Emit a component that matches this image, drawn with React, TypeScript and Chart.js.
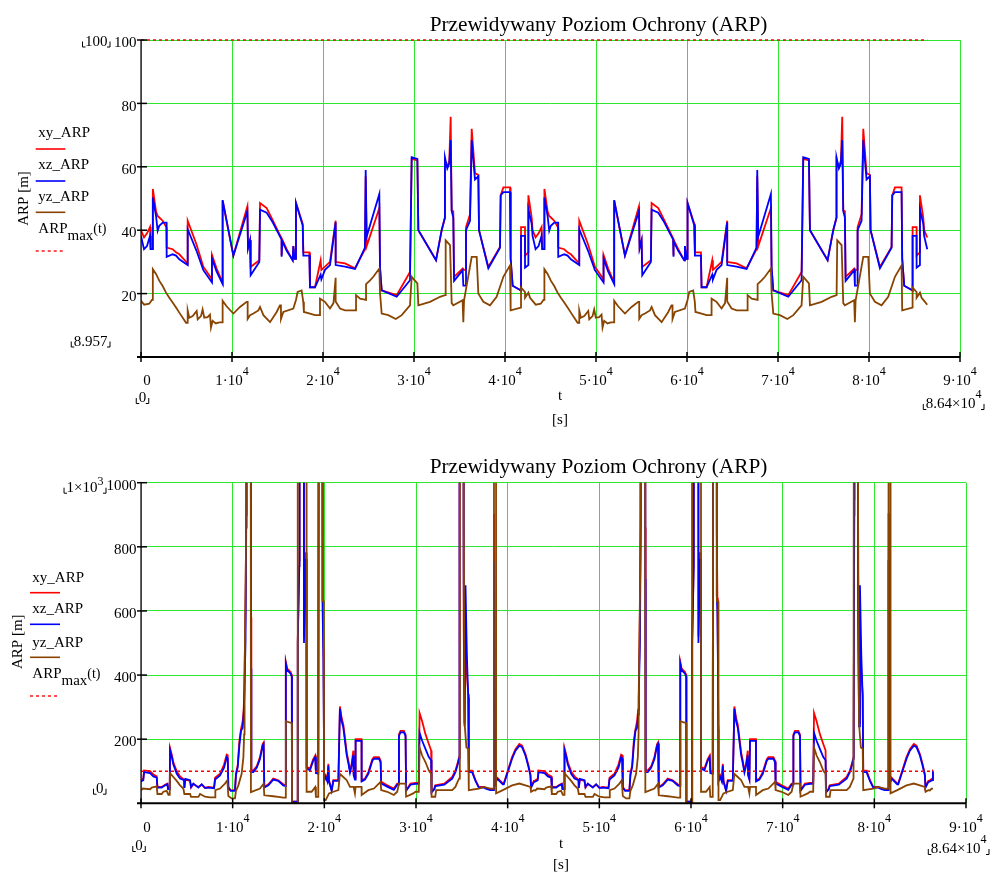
import React, { useEffect, useRef } from "react";
import { Chart, registerables } from "chart.js";

Chart.register(...registerables);

// ---------------- DATA ----------------
// Top plot: time [s] shared by xy_ARP and xz_ARP
const topT = [
  0,330,660,990,1060,1280,1300,1650,1830,2010,
  2380,2800,2820,3480,3850,4210,5130,5130,6100,6850,
  7800,7800,8300,8970,8970,10150,11690,11760,11980,12050,
  13000,13080,13810,14470,15450,15450,15530,16010,16670,16740,
  16890,17030,17030,17770,17840,18500,18570,19120,19740,19820,
  20220,20770,21390,21390,22420,23520,24610,24690,24800,26190,
  26265,26450,28100,29560,29745,30370,30480,32420,33040,33400,
  33400,33660,33880,34030,34140,34320,34400,35350,35420,35716,
  35716,36156,36340,36700,37070,37144,38170,39450,39525,39820,
  40550,40620,40840,41760,41760,42200,42200,42568,42568,42933,
  43030,43360,43690,44020,44090,44310,44330,44680,44860,45040,
  45410,45830,45850,46510,46880,47240,48160,48160,49130,49880,
  50830,50830,51330,52000,52000,53180,54720,54790,55010,55080,
  56030,56110,56840,57500,58480,58480,58560,59040,59700,59770,
  59920,60060,60060,60800,60870,61530,61600,62150,62770,62850,
  63250,63800,64420,64420,65450,66550,67640,67720,67830,69220,
  69295,69480,71130,72590,72775,73400,73510,75450,76070,76430,
  76430,76690,76910,77060,77170,77350,77430,78380,78450,78746,
  78746,79186,79370,79730,80100,80174,81200,82480,82555,82850,
  83580,83650,83870,84790,84790,85230,85230,85598,85598,85963,
  86060,86400,
];
const topXY = [
  40,37.7,39,41,34,34,53,46,44.5,44,
  43,40.8,34.5,34,33,32.4,29.5,43,35.5,28.5,
  24.5,32.2,28,23.5,49.3,32,47.5,34.5,36.8,28.4,
  30.5,48.6,47,43.2,37.4,32,37,34,30.5,35,
  31,31,48.6,42,33,33,22,22,30.5,27.5,
  28.5,30,43,30,29.5,28,34,57,35,47,
  28,21,19.5,26.8,62.5,62,40,30.5,40,44,
  62,60,62,75.8,46.3,46,25.3,27.9,27.5,27.5,
  41,45,72,58,57.4,40,28.4,34.7,51,53.5,
  53.5,31,22.5,21,41,41,32,33,51,44,
  40,37.7,39,41,34,34,53,46,44.5,44,
  43,40.8,34.5,34,33,32.4,29.5,43,35.5,28.5,
  24.5,32.2,28,23.5,49.3,32,47.5,34.5,36.8,28.4,
  30.5,48.6,47,43.2,37.4,32,37,34,30.5,35,
  31,31,48.6,42,33,33,22,22,30.5,27.5,
  28.5,30,43,30,29.5,28,34,57,35,47,
  28,21,19.5,26.8,62.5,62,40,30.5,40,44,
  62,60,62,75.8,46.3,46,25.3,27.9,27.5,27.5,
  41,45,72,58,57.4,40,28.4,34.7,51,53.5,
  53.5,31,22.5,21,41,41,32,33,51,44,
  40,37.7,
];
const topXZ = [
  38.2,34,35,38.2,34,34,50.3,44.5,39.8,41.4,
  42.4,42.4,31.6,32.4,32,30.8,29,40.3,33.5,27.4,
  23.5,31,27,23,49.5,32,46,34.2,36.8,25.8,
  30,46.5,45.5,42.5,37,31.6,36.5,33.5,30.5,35,
  31,31,48.6,41.5,32,32,22,22,26,24.5,
  27.5,29,42.5,29,28.5,27.8,34.5,59,38,51.4,
  28.4,21,19,24.2,63,62.5,40,30.5,40,44,
  63,59.5,61,68.4,46,44,24,27.4,22.5,22.5,
  40,43,68.4,56,57,40,28,34.5,51,52,
  52,31,22.5,21,38.2,38.2,28.2,29,46.6,42,
  38.2,34,35,38.2,34,34,50.3,44.5,39.8,41.4,
  42.4,42.4,31.6,32.4,32,30.8,29,40.3,33.5,27.4,
  23.5,31,27,23,49.5,32,46,34.2,36.8,25.8,
  30,46.5,45.5,42.5,37,31.6,36.5,33.5,30.5,35,
  31,31,48.6,41.5,32,32,22,22,26,24.5,
  27.5,29,42.5,29,28.5,27.8,34.5,59,38,51.4,
  28.4,21,19,24.2,63,62.5,40,30.5,40,44,
  63,59.5,61,68.4,46,44,24,27.4,22.5,22.5,
  40,43,68.4,56,57,40,28,34.5,51,52,
  52,31,22.5,21,38.2,38.2,28.2,29,46.6,42,
  38.2,34,
];
// Top plot: yz_ARP
const topYzT = [
  0,350,900,1200,1300,1300,1650,2020,2380,2750,
  3110,3480,3850,4210,4950,5130,5130,5310,5680,6120,
  6230,6590,6770,6950,7320,7580,7690,7870,8230,8600,
  8970,8970,9400,10150,10880,11610,11720,11720,11980,12350,
  12900,13080,13450,14180,14910,15270,15380,15380,15640,16740,
  17030,17210,17650,17830,17900,18570,19120,19670,19670,20220,
  20770,21150,21390,21390,21870,22420,23630,23630,24080,24730,
  24730,25170,25530,26190,26270,26450,27180,28000,28650,29560,
  29745,30370,30480,31760,32860,33410,33480,33960,34140,34320,
  35340,35420,35500,35790,36340,36890,37070,37620,38350,39080,
  39820,40550,40620,41760,41760,42200,42200,42570,42750,
  43030,43380,43930,44230,44330,44330,44680,45050,45410,45780,
  46140,46510,46880,47240,47980,48160,48160,48340,48710,49150,
  49260,49620,49800,49980,50350,50610,50720,50900,51260,51630,
  52000,52000,52430,53180,53910,54640,54750,54750,55010,55380,
  55930,56110,56480,57210,57940,58300,58410,58410,58670,59770,
  60060,60240,60680,60860,60930,61600,62150,62700,62700,63250,
  63800,64180,64420,64420,64900,65450,66660,66660,67110,67760,
  67760,68200,68560,69220,69300,69480,70210,71030,71680,72590,
  72775,73400,73510,74790,75890,76440,76510,76990,77170,77350,
  78370,78450,78530,78820,79370,79920,80100,80650,81380,82110,
  82850,83580,83650,84790,84790,85230,85230,85600,85780,
  86060,86400,
];
const topYZ = [
  17.7,16.5,16.8,18,18,27.7,26.2,24,22.4,20.3,
  18.7,17.2,15.6,14,10.8,10.8,14.7,12.4,12.9,14.5,
  11.9,12.9,15,12.4,12.6,13.4,9.3,11.4,10.6,10.9,
  10.9,17.7,16,13.7,15.8,17.4,17.4,12,13.2,13.7,
  14.7,15.8,13.2,11,14.2,16.3,16.3,12,14.2,15.3,
  18,20.5,21,17.4,14.2,13.7,13.2,13.2,18.4,17.4,
  15.3,17,25,17.5,15.3,14.7,14.7,19.5,18.4,18,
  23,24.2,25.3,27.9,20,13.7,13.2,12,13.2,16.3,
  25.3,23.2,16.3,17.4,19,19.5,36.8,35.3,17,16.3,
  17.9,11,17.9,22.6,31.6,31.6,20,17.4,16.3,19,
  25.3,28.9,14.7,15.6,21.9,20.5,18.7,20.3,18.7,
  17.7,16.5,16.8,18,18,27.7,26.2,24,22.4,20.3,
  18.7,17.2,15.6,14,10.8,10.8,14.7,12.4,12.9,14.5,
  11.9,12.9,15,12.4,12.6,13.4,9.3,11.4,10.6,10.9,
  10.9,17.7,16,13.7,15.8,17.4,17.4,12,13.2,13.7,
  14.7,15.8,13.2,11,14.2,16.3,16.3,12,14.2,15.3,
  18,20.5,21,17.4,14.2,13.7,13.2,13.2,18.4,17.4,
  15.3,17,25,17.5,15.3,14.7,14.7,19.5,18.4,18,
  23,24.2,25.3,27.9,20,13.7,13.2,12,13.2,16.3,
  25.3,23.2,16.3,17.4,19,19.5,36.8,35.3,17,16.3,
  17.9,11,17.9,22.6,31.6,31.6,20,17.4,16.3,19,
  25.3,28.9,14.7,15.6,21.9,20.5,18.7,20.3,18.7,
  17.7,16.5,
];

// Bottom plot: time [s] shared by xy_ARP and xz_ARP
const botT = [
  0,250,336,990,1350,1717,1790,2260,2625,2880,
  2950,3134,3170,3350,3530,3900,4260,4700,4730,4840,
  5350,5460,5710,6260,6620,6980,7350,7970,8080,8620,
  9060,9350,9460,9530,9780,10250,10360,10550,10730,10910,
  11090,11200,11270,11400,11480,11520,11950,11990,12010,12040,
  12250,12620,12980,13270,13380,13450,13890,14430,14970,15520,
  15780,15800,15950,16300,16450,16470,17080,17100,17270,17300,
  17750,17780,17950,18050,18065,18430,18610,18790,19010,19080,
  19340,19450,19750,19780,19850,19900,19950,19970,20150,20330,
  20440,20510,20800,20980,21530,21700,21890,22070,22250,22440,
  22620,22800,22980,23160,23200,23340,23400,23410,24060,24070,
  24430,24800,25240,25410,25960,26140,26200,26860,27580,27950,
  28130,28140,28310,28680,28860,28920,29400,29948,30300,30390,
  30670,31040,31400,31650,31700,32000,32100,33090,33950,34300,
  34520,34700,34720,34780,34800,35150,35200,35300,35400,35550,
  35700,35760,36120,36300,36490,36850,37400,37760,38120,38500,
  38520,38600,38620,38850,39470,39575,40480,40850,41280,41570,
  41940,42230,42480,42555,42850,
  43030,43280,43366,44020,44380,44747,44820,45290,45655,45910,
  45980,46164,46200,46380,46560,46930,47290,47730,47760,47870,
  48380,48490,48740,49290,49650,50010,50380,51000,51110,51650,
  52090,52380,52490,52560,52810,53280,53390,53580,53760,53940,
  54120,54230,54300,54430,54510,54550,54980,55020,55040,55070,
  55280,55650,56010,56300,56410,56480,56920,57460,58000,58550,
  58810,58830,58980,59330,59480,59500,60110,60130,60300,60330,
  60780,60810,60980,61080,61095,61460,61640,61820,62040,62110,
  62370,62480,62780,62810,62880,62930,62980,63000,63180,63360,
  63470,63540,63830,64010,64560,64730,64920,65100,65280,65470,
  65650,65830,66010,66190,66230,66370,66430,66440,67090,67100,
  67460,67830,68270,68440,68990,69170,69230,69890,70610,70980,
  71160,71170,71340,71710,71890,71950,72430,72978,73330,73420,
  73700,74070,74430,74680,74730,75030,75130,76120,76980,77330,
  77550,77730,77750,77810,77830,78180,78230,78330,78430,78580,
  78730,78790,79150,79330,79520,79880,80430,80790,81150,81530,
  81550,81630,81650,81880,82500,82605,83510,83880,84310,84600,
  84970,85260,85510,85585,85880,
  86060,86310,86396,86400,
];
const botXY = [
  72,77,102.6,100.5,90,84,51,51,58,61.5,
  46,46,172,152,128,99.5,84,74,49,74,
  70,49,59.5,51,58,48,51,49,80,92,
  121,152,150,51,41,41,94,118,195,231,
  256,292,350,610,900,3000,3000,860,580,102.6,
  102.6,115,144,185,190,51,59.5,77,72,59.5,
  56,441,420,410,400,5,5,508,758,3000,
  3000,520,780,780,113,108,123,138,149,100.5,
  97.5,3000,3000,860,640,480,240,72,87,72,
  123,72,41,72,72,302,266,246,205,159,
  133,102,123,164,92,77,77,200,200,72,
  77,97.5,138,144,144,133,67,56,46,61.5,
  61.5,215,226,226,215,41,61.5,64,64,282,
  256,215,185,165,36,46,56,61,82,102,
  123,144,250,950,3000,3000,560,250,540,400,
  340,102,102,87,72,51,51,46,43,43,
  902,902,60,80,62,62,144,169,185,180,
  154,123,92,51,70,
  72,77,102.6,100.5,90,84,51,51,58,61.5,
  46,46,172,152,128,99.5,84,74,49,74,
  70,49,59.5,51,58,48,51,49,80,92,
  121,152,150,51,41,41,94,118,195,231,
  256,292,350,610,900,3000,3000,860,580,102.6,
  102.6,115,144,185,190,51,59.5,77,72,59.5,
  56,441,420,410,400,5,5,508,758,3000,
  3000,520,780,780,113,108,123,138,149,100.5,
  97.5,3000,3000,860,640,480,240,72,87,72,
  123,72,41,72,72,302,266,246,205,159,
  133,102,123,164,92,77,77,200,200,72,
  77,97.5,138,144,144,133,67,56,46,61.5,
  61.5,215,226,226,215,41,61.5,64,64,282,
  256,215,185,165,36,46,56,61,82,102,
  123,144,250,950,3000,3000,560,250,540,400,
  340,102,102,87,72,51,51,46,43,43,
  902,902,60,80,62,62,144,169,185,180,
  154,123,92,51,70,
  72,77,102.6,102.6,
];
const botXZ = [
  68,72,97.5,94,84,80,49,49,56,59.5,
  44,44,166,146,121,92,77,72,48,76,
  72,51,61.5,49,59.5,48,49,47,74,87,
  111,144,140,49,39,39,87,113,180,226,
  236,277,330,500,860,3000,3000,700,420,97.5,
  97.5,111,138,180,185,49,56,74,70,56,
  54,436,415,405,395,5,5,500,740,3000,
  3000,500,760,760,108,103,118,133,144,94,
  92,3000,3000,650,600,450,230,68,82,68,
  118,68,39,70,70,295,256,236,195,150,
  125,96,118,150,87,74,74,195,195,68,
  74,92,133,139,139,128,62,52,42,58,
  58,210,221,221,210,39,58,61,61,220,
  195,169,144,134,34,44,54,58,77,97,
  118,139,240,900,3000,3000,720,240,680,460,
  330,97,97,84,70,49,49,44,41,41,
  755,755,58,77,59,59,139,164,180,175,
  149,118,87,49,66,
  68,72,97.5,94,84,80,49,49,56,59.5,
  44,44,166,146,121,92,77,72,48,76,
  72,51,61.5,49,59.5,48,49,47,74,87,
  111,144,140,49,39,39,87,113,180,226,
  236,277,330,500,860,3000,3000,700,420,97.5,
  97.5,111,138,180,185,49,56,74,70,56,
  54,436,415,405,395,5,5,500,740,3000,
  3000,500,760,760,108,103,118,133,144,94,
  92,3000,3000,650,600,450,230,68,82,68,
  118,68,39,70,70,295,256,236,195,150,
  125,96,118,150,87,74,74,195,195,68,
  74,92,133,139,139,128,62,52,42,58,
  58,210,221,221,210,39,58,61,61,220,
  195,169,144,134,34,44,54,58,77,97,
  118,139,240,900,3000,3000,720,240,680,460,
  330,97,97,84,70,49,49,44,41,41,
  755,755,58,77,59,59,139,164,180,175,
  149,118,87,49,66,
  68,72,97.5,97.5,
];
// Bottom plot: yz_ARP
const botYzT = [
  0,190,990,1170,1717,1790,2260,2440,2800,2990,
  3134,3170,3530,3900,4260,4620,4730,5350,5460,6260,
  6440,6980,7530,8080,8110,8620,9160,9420,9530,9890,
  10250,10360,10620,10980,11170,11250,11300,11450,11520,11950,
  11990,12980,13380,13450,14430,14970,15520,15780,15800,16450,
  16470,17080,17100,18050,18065,18610,19010,19080,19340,19450,
  19750,19800,19950,19970,20150,20510,20980,21530,21700,22070,
  22440,22800,23200,23340,23410,24060,24070,24800,25410,26140,
  26200,26860,27580,27950,28140,28860,28920,29700,29948,30300,
  30390,30670,31040,31400,31650,31700,32100,32200,33950,34300,
  34520,34700,34780,35150,35200,35300,35500,35700,35760,36850,
  37400,38120,38500,38520,38720,38740,39470,40480,41280,41940,
  42480,42555,42850,
  43030,43220,44020,44200,44747,44820,45290,45470,45830,46020,
  46164,46200,46560,46930,47290,47650,47760,48380,48490,49290,
  49470,50010,50560,51110,51140,51650,52190,52450,52560,52920,
  53280,53390,53650,54010,54200,54280,54330,54480,54550,54980,
  55020,56010,56410,56480,57460,58000,58550,58810,58830,59480,
  59500,60110,60130,61080,61095,61640,62040,62110,62370,62480,
  62780,62830,62980,63000,63180,63540,64010,64560,64730,65100,
  65470,65830,66230,66370,66440,67090,67100,67830,68440,69170,
  69230,69890,70610,70980,71170,71890,71950,72730,72978,73330,
  73420,73700,74070,74430,74680,74730,75130,75230,76980,77330,
  77550,77730,77810,78180,78230,78330,78530,78730,78790,79880,
  80430,81150,81530,81550,81750,81770,82500,83510,84310,84970,
  85510,85585,85880,
  86060,86250,86400,
];
const botYZ = [
  40,46,44,49,53,29,29,36,39,26,
  26,94,82,70,56,46,29,29,20,20,
  29,20.5,18.5,18.5,41,46,61.6,72,22.6,15.4,
  15.4,39,56,92,144,215,400,780,3000,3000,
  35,46,61,25,22,20,18,18,256,250,
  0,0,3000,3000,36,36,51,20,20,3000,
  3000,630,630,10,10,31,36,41,92,82,
  72,51,51,31,51,51,26,41,46,67,
  41,36,26,36,61.6,61.6,20.5,31,36,36,
  174,149,128,102,92,20.5,20.5,41,41,51,
  66,77,3000,3000,880,250,174,170,41,46,
  51,46,46,3000,3000,31,41,56,61.6,56,
  51,36,41,
  40,46,44,49,53,29,29,36,39,26,
  26,94,82,70,56,46,29,29,20,20,
  29,20.5,18.5,18.5,41,46,61.6,72,22.6,15.4,
  15.4,39,56,92,144,215,400,780,3000,3000,
  35,46,61,25,22,20,18,18,256,250,
  0,0,3000,3000,36,36,51,20,20,3000,
  3000,630,630,10,10,31,36,41,92,82,
  72,51,51,31,51,51,26,41,46,67,
  41,36,26,36,61.6,61.6,20.5,31,36,36,
  174,149,128,102,92,20.5,20.5,41,41,51,
  66,77,3000,3000,880,250,174,170,41,46,
  51,46,46,3000,3000,31,41,56,61.6,56,
  51,36,41,
  40,46,46,
];

// ARP_max(t)
const arpMaxT = [0, 86400];
const topArpMax = [100, 100];
const botArpMax = [100, 100];

// Axis ticks / labels
const xTicks = [0, 10000, 20000, 30000, 40000, 50000, 60000, 70000, 80000, 90000];
const xTickLabels: [string, string][] = [
  ["0", ""], ["1·10", "4"], ["2·10", "4"], ["3·10", "4"], ["4·10", "4"],
  ["5·10", "4"], ["6·10", "4"], ["7·10", "4"], ["8·10", "4"], ["9·10", "4"],
];
const topYTicks = [20, 40, 60, 80, 100];
const botYTicks = [200, 400, 600, 800, 1000];
const legendNames = ["xy_ARP", "xz_ARP", "yz_ARP"];
const titleText = "Przewidywany Poziom Ochrony (ARP)";

// ---------------- STYLE ----------------
const RED = "#ff0000";
const BLUE = "#0000ff";
const BROWN = "#884400";
const GREEN = "#2ee62e";
const FONT = "'Liberation Serif', 'Times New Roman', Times, serif";

type Spec = {
  yTicks: number[];
  limTop: [string, string];
  limTopBase: number;
  limBot: string;
  limBotBase: number;
  limRight: number;
  titleBase: number;
  yTitle: [number, number];
  legX: number;
  legLine: [number, number];
  legRows: [number, number][];
  arpBase: number;
  arpDash: number;
  xLabelDy: number;
  zeroDy: number;
  zeroX: number;
  tX: number;
  tDy: number;
  sDy: number;
  rightX: number;
  rightDy: number;
};

function txt(ctx: CanvasRenderingContext2D, s: string, x: number, y: number, size: number, align: CanvasTextAlign = "left") {
  ctx.font = `${size}px ${FONT}`;
  ctx.textAlign = align;
  ctx.textBaseline = "alphabetic";
  ctx.fillText(s, x, y);
}

function supText(ctx: CanvasRenderingContext2D, base: string, sup: string, x: number, y: number, align: "left" | "center" | "right", size = 15, supSize = 12, rise = 9): [number, number] {
  ctx.font = `${size}px ${FONT}`;
  const wb = ctx.measureText(base).width;
  ctx.font = `${supSize}px ${FONT}`;
  const ws = sup ? ctx.measureText(sup).width : 0;
  const w = wb + ws;
  const x0 = align === "center" ? x - w / 2 : align === "right" ? x - w : x;
  txt(ctx, base, x0, y, size);
  if (sup) txt(ctx, sup, x0 + wb, y - rise, supSize);
  return [x0, x0 + w];
}

function corners(ctx: CanvasRenderingContext2D, xl: number, xr: number, yb: number) {
  ctx.save();
  ctx.strokeStyle = "#000";
  ctx.lineWidth = 1;
  ctx.beginPath();
  ctx.moveTo(xl - 2.5, yb - 4);
  ctx.lineTo(xl - 2.5, yb + 1.5);
  ctx.lineTo(xl + 0.5, yb + 1.5);
  ctx.moveTo(xr - 0.5, yb + 1.5);
  ctx.lineTo(xr + 2.5, yb + 1.5);
  ctx.lineTo(xr + 2.5, yb - 4);
  ctx.stroke();
  ctx.restore();
}

function line(ctx: CanvasRenderingContext2D, x0: number, y0: number, x1: number, y1: number) {
  ctx.beginPath();
  ctx.moveTo(x0, y0);
  ctx.lineTo(x1, y1);
  ctx.stroke();
}

function drawDecor(chart: any, spec: Spec) {
  const ctx: CanvasRenderingContext2D = chart.ctx;
  const { left, right, top, bottom } = chart.chartArea;
  const xs = chart.scales.x;
  const ys = chart.scales.y;
  ctx.save();
  ctx.fillStyle = "#000";
  ctx.strokeStyle = "#000";

  // axes
  ctx.lineWidth = 1.2;
  line(ctx, left, top, left, bottom + 1);
  ctx.lineWidth = 2;
  line(ctx, left - 4, bottom, right, bottom);
  ctx.lineWidth = 1.5;
  xTicks.forEach((v) => {
    const px = xs.getPixelForValue(v);
    line(ctx, px, bottom - 5, px, bottom + 5);
  });
  spec.yTicks.forEach((v) => {
    const py = ys.getPixelForValue(v);
    line(ctx, left - 4, py, left + 6, py);
  });

  // y tick labels
  spec.yTicks.forEach((v) => {
    const py = ys.getPixelForValue(v);
    txt(ctx, String(v), left - 4.5, py + 7.2, 15, "right");
  });
  // y limits
  const [a0, a1] = supText(ctx, spec.limTop[0], spec.limTop[1], spec.limRight, spec.limTopBase, "right", 15, 12, 7);
  corners(ctx, a0, a1, spec.limTopBase);
  ctx.font = `15px ${FONT}`;
  const wbot = ctx.measureText(spec.limBot).width;
  txt(ctx, spec.limBot, spec.limRight, spec.limBotBase, 15, "right");
  corners(ctx, spec.limRight - wbot, spec.limRight, spec.limBotBase);

  // x tick labels
  xTicks.forEach((v, i) => {
    const px = xs.getPixelForValue(v) + (i === 0 ? 6 : 0);
    supText(ctx, xTickLabels[i][0], xTickLabels[i][1], px, bottom + spec.xLabelDy, "center", 15, 12, 10);
  });
  // x limits
  ctx.font = `15px ${FONT}`;
  const w0 = ctx.measureText("0").width;
  txt(ctx, "0", spec.zeroX, bottom + spec.zeroDy, 15, "center");
  corners(ctx, spec.zeroX - w0 / 2, spec.zeroX + w0 / 2, bottom + spec.zeroDy);
  const [r0, r1] = supText(ctx, "8.64×10", "4", spec.rightX, bottom + spec.rightDy, "right", 15, 12, 10);
  corners(ctx, r0, r1, bottom + spec.rightDy);
  // axis name
  txt(ctx, "t", spec.tX, bottom + spec.tDy, 15, "center");
  txt(ctx, "[s]", spec.tX, bottom + spec.sDy, 15, "center");

  // title
  txt(ctx, titleText, 598.5, spec.titleBase, 21.3, "center");

  // y axis title
  ctx.save();
  ctx.translate(spec.yTitle[0], spec.yTitle[1]);
  ctx.rotate(-Math.PI / 2);
  ctx.font = `15px ${FONT}`;
  ctx.textAlign = "center";
  ctx.textBaseline = "middle";
  ctx.fillText("ARP [m]", 0, 0);
  ctx.restore();

  // legend
  const colors = [RED, BLUE, BROWN];
  spec.legRows.forEach(([tb, ly], i) => {
    ctx.fillStyle = "#000";
    txt(ctx, legendNames[i], spec.legX, tb, 15);
    ctx.strokeStyle = colors[i];
    ctx.lineWidth = 1.6;
    line(ctx, spec.legLine[0], ly, spec.legLine[1], ly);
  });
  ctx.fillStyle = "#000";
  ctx.font = `15px ${FONT}`;
  const wA = ctx.measureText("ARP").width;
  const wM = ctx.measureText("max").width;
  txt(ctx, "ARP", spec.legX, spec.arpBase, 15);
  txt(ctx, "max", spec.legX + wA, spec.arpBase + 6.3, 15);
  txt(ctx, "(t)", spec.legX + wA + wM, spec.arpBase - 0.5, 14);
  ctx.strokeStyle = RED;
  ctx.lineWidth = 1.4;
  ctx.setLineDash([3, 3]);
  line(ctx, spec.legLine[0], spec.arpDash, spec.legLine[1], spec.arpDash);
  ctx.setLineDash([]);
  ctx.restore();
}

function zip(t: number[], v: number[]) {
  return t.map((x, i) => ({ x, y: v[i] }));
}

function makeConfig(opts: {
  t: number[]; xy: number[]; xz: number[]; yzT: number[]; yz: number[]; arp: number[];
  yMax: number; yStep: number; padding: any; spec: Spec;
}) {
  const base = { pointRadius: 0, borderWidth: 1.8, tension: 0, fill: false };
  return {
    type: "line",
    data: {
      datasets: [
        { ...base, data: zip(opts.t, opts.xy), borderColor: RED, order: 4 },
        { ...base, data: zip(opts.t, opts.xz), borderColor: BLUE, order: 3 },
        { ...base, data: zip(opts.yzT, opts.yz), borderColor: BROWN, order: 2 },
        { ...base, data: zip(arpMaxT, opts.arp), borderColor: RED, borderWidth: 1.5, borderDash: [3, 3], order: 1, clip: 4 },
      ],
    },
    options: {
      animation: false,
      responsive: false,
      maintainAspectRatio: false,
      devicePixelRatio: 1,
      parsing: false,
      layout: { padding: opts.padding },
      plugins: { legend: { display: false }, tooltip: { enabled: false }, title: { display: false } },
      scales: {
        x: {
          type: "linear",
          min: 0,
          max: 90000,
          afterFit: (s: any) => { s.height = 0; },
          ticks: { display: false, stepSize: 10000 },
          grid: { color: GREEN, lineWidth: 1, drawTicks: false },
          border: { display: false },
        },
        y: {
          type: "linear",
          min: 0,
          max: opts.yMax,
          afterFit: (s: any) => { s.width = 0; },
          ticks: { display: false, stepSize: opts.yStep },
          grid: { color: GREEN, lineWidth: 1, drawTicks: false },
          border: { display: false },
        },
      },
    },
    plugins: [
      {
        id: "mathcadDecor",
        afterDatasetsDraw: (chart: any) => drawDecor(chart, opts.spec),
      },
    ],
  };
}

const topSpec: Spec = {
  yTicks: topYTicks,
  limTop: ["100", ""],
  limTopBase: 45.5,
  limBot: "8.957",
  limBotBase: 345.5,
  limRight: 107.5,
  titleBase: 31,
  yTitle: [24, 198.5],
  legX: 38.3,
  legLine: [35.7, 65.3],
  legRows: [[137.3, 149], [169.3, 181], [201.3, 212.3]],
  arpBase: 233.3,
  arpDash: 251,
  xLabelDy: 28,
  zeroDy: 45,
  zeroX: 142.5,
  tX: 560,
  tDy: 43,
  sDy: 66.5,
  rightX: 981.5,
  rightDy: 51,
};

const botSpec: Spec = {
  yTicks: botYTicks,
  limTop: ["1×10", "3"],
  limTopBase: 55.7,
  limBot: "0",
  limBotBase: 356.7,
  limRight: 103.5,
  titleBase: 37,
  yTitle: [18.5, 205.7],
  legX: 32.3,
  legLine: [30, 60],
  legRows: [[145.7, 156.7], [177.3, 188.3], [210.7, 221.3]],
  arpBase: 242.3,
  arpDash: 260,
  xLabelDy: 28.7,
  zeroDy: 46.7,
  zeroX: 139,
  tX: 561,
  tDy: 44.7,
  sDy: 65.7,
  rightX: 986.5,
  rightDy: 49.7,
};

export default function App() {
  const topRef = useRef<HTMLCanvasElement | null>(null);
  const botRef = useRef<HTMLCanvasElement | null>(null);

  useEffect(() => {
    const c1 = new Chart(topRef.current as HTMLCanvasElement, makeConfig({
      t: topT, xy: topXY, xz: topXZ, yzT: topYzT, yz: topYZ, arp: topArpMax,
      yMax: 100, yStep: 20,
      padding: { left: 141, right: 34, top: 40, bottom: 79 },
      spec: topSpec,
    }) as any);
    const c2 = new Chart(botRef.current as HTMLCanvasElement, makeConfig({
      t: botT, xy: botXY, xz: botXZ, yzT: botYzT, yz: botYZ, arp: botArpMax,
      yMax: 1000, yStep: 200,
      padding: { left: 141, right: 28, top: 46.7, bottom: 69.7 },
      spec: botSpec,
    }) as any);
    return () => {
      c1.destroy();
      c2.destroy();
    };
  }, []);

  return (
    <div style={{ position: "absolute", left: 0, top: 0, width: 994, height: 873, background: "#fff", overflow: "hidden" }}>
      <canvas ref={topRef} width={994} height={436} style={{ position: "absolute", left: 0, top: 0, width: 994, height: 436 }} />
      <canvas ref={botRef} width={994} height={437} style={{ position: "absolute", left: 0, top: 436, width: 994, height: 437 }} />
    </div>
  );
}
